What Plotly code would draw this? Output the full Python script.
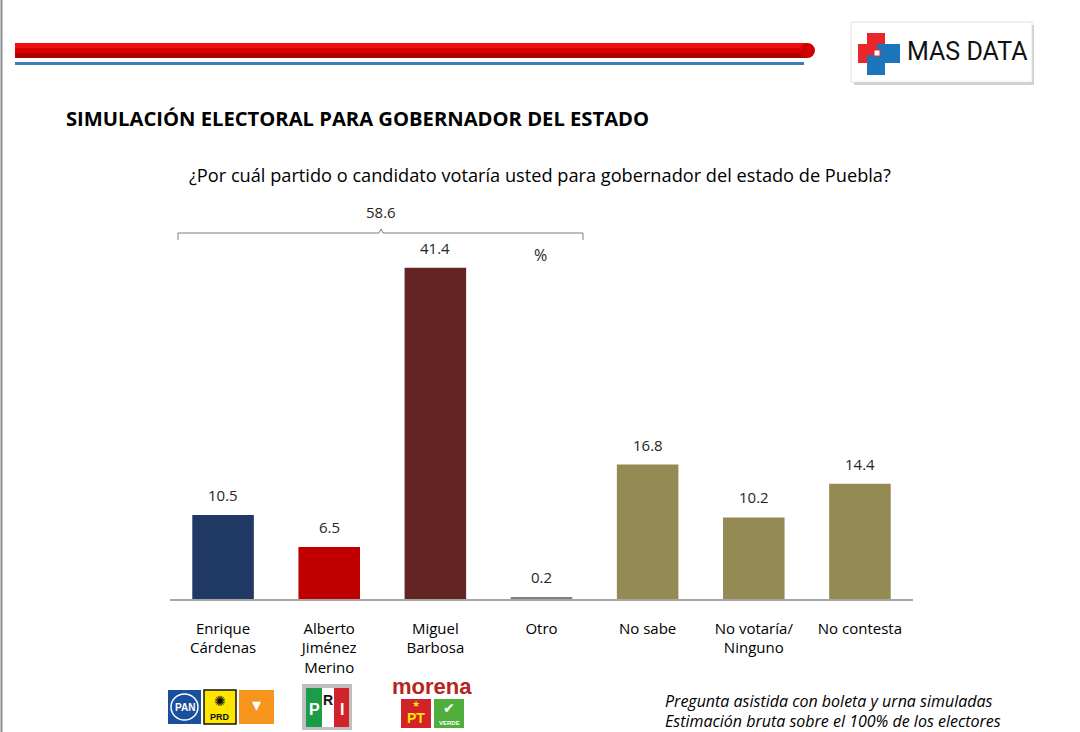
import plotly.graph_objects as go

categories = ["Enrique Cárdenas", "Alberto Jiménez Merino", "Miguel Barbosa", "Otro",
              "No sabe", "No votaría/ Ninguno", "No contesta"]
tick_labels = ["Enrique<br>Cárdenas", "Alberto<br>Jiménez<br>Merino", "Miguel<br>Barbosa", "Otro",
               "No sabe", "No votaría/<br>Ninguno", "No contesta"]
values = [10.5, 6.5, 41.4, 0.2, 16.8, 10.2, 14.4]
bar_colors = ["#1f3864", "#c00000", "#632523", "#7f7f7f", "#948a54", "#948a54", "#948a54"]
bracket_total = round(sum(values[:4]), 1)

W, H = 1080, 732
def px(x):
    return x / W
def py(y):
    return 1 - y / H

FONT = "Open Sans"

fig = go.Figure()
fig.add_trace(go.Bar(
    x=categories, y=values,
    marker=dict(color=bar_colors, line=dict(width=0)),
    hoverinfo="skip",
))

shapes = []
# left border line
shapes.append(dict(type="line", xref="paper", yref="paper", x0=px(1.5), x1=px(1.5), y0=0, y1=1,
                   line=dict(color="#8c8c8c", width=2)))
# red header bar (gradient approximation)
strips = [("#f01010", 43, 48), ("#d80000", 48, 53), ("#b00000", 53, 58)]
for c, y0, y1 in strips:
    shapes.append(dict(type="rect", xref="paper", yref="paper", x0=px(15), x1=px(808),
                       y0=py(y1), y1=py(y0), fillcolor=c, line=dict(width=0), layer="below"))
shapes.append(dict(type="circle", xref="paper", yref="paper", x0=px(800), x1=px(815),
                   y0=py(58), y1=py(43), fillcolor="#d00000", line=dict(width=0), layer="below"))
# blue line
shapes.append(dict(type="rect", xref="paper", yref="paper", x0=px(15), x1=px(804),
                   y0=py(65), y1=py(62), fillcolor="#3a7fb8", line=dict(width=0)))
# logo box shadow and box
shapes.append(dict(type="rect", xref="paper", yref="paper", x0=px(854), x1=px(1034),
                   y0=py(85), y1=py(25), fillcolor="#d0d0d0", line=dict(width=0)))
shapes.append(dict(type="rect", xref="paper", yref="paper", x0=px(851), x1=px(1032),
                   y0=py(82), y1=py(22), fillcolor="white", line=dict(color="#e0e0e0", width=1)))
# cross logo
shapes.append(dict(type="rect", xref="paper", yref="paper", x0=px(858), x1=px(880),
                   y0=py(63), y1=py(44), fillcolor="#e8262b", line=dict(width=0)))
shapes.append(dict(type="rect", xref="paper", yref="paper", x0=px(867), x1=px(885),
                   y0=py(53), y1=py(33), fillcolor="#e8262b", line=dict(width=0)))
shapes.append(dict(type="rect", xref="paper", yref="paper", x0=px(877), x1=px(900),
                   y0=py(63), y1=py(44), fillcolor="#1b75bb", line=dict(width=0)))
shapes.append(dict(type="rect", xref="paper", yref="paper", x0=px(867), x1=px(885),
                   y0=py(75), y1=py(55), fillcolor="#1b75bb", line=dict(width=0)))
shapes.append(dict(type="rect", xref="paper", yref="paper", x0=px(874), x1=px(880),
                   y0=py(56), y1=py(50), fillcolor="white", line=dict(color="#e8262b", width=1)))
# bracket
shapes.append(dict(type="path", xref="paper", yref="paper",
                   path=f"M {px(178)} {py(240)} L {px(178)} {py(233)} L {px(379)} {py(233)} "
                        f"L {px(381)} {py(229)} L {px(383)} {py(233)} L {px(583)} {py(233)} L {px(583)} {py(240)}",
                   line=dict(color="#7f7f7f", width=1)))
# party logos
def box(x0, y0, x1, y1, fill, line="rgba(0,0,0,0)", lw=0):
    shapes.append(dict(type="rect", xref="paper", yref="paper", x0=px(x0), x1=px(x1),
                       y0=py(y1), y1=py(y0), fillcolor=fill, line=dict(color=line, width=lw)))
box(168, 690, 201, 724, "#1b4f9c")
shapes.append(dict(type="circle", xref="paper", yref="paper", x0=px(171), x1=px(198),
                   y0=py(720), y1=py(694), fillcolor="#1b4f9c", line=dict(color="white", width=1.5)))
box(204, 690, 236, 724, "#ffe600", "#111111", 1.5)
box(239, 690, 274, 724, "#f7941d")
box(302, 684, 352, 730, "#bfbfbf")
box(306, 688, 322, 727, "#1a9c48")
box(322, 688, 334, 727, "#ffffff")
box(334, 688, 349, 727, "#d2232a")
box(401, 699, 431, 728, "#d2232a")
box(434, 699, 464, 728, "#4fae3c")

fig.update_layout(shapes=shapes)

ann = []
# value labels above bars (data coordinates)
for c, v in zip(categories, values):
    ann.append(dict(x=c, y=v, xref="x", yref="y", text=f"{v:.1f}", showarrow=False,
                    xanchor="center", yanchor="bottom", yshift=8,
                    font=dict(family=FONT, size=15, color="#262626")))

def text(x, y, s, size, color="#000000", bold=False, italic=False, xanchor="left", family=FONT):
    st = s
    if bold:
        st = f"<b>{st}</b>"
    if italic:
        st = f"<i>{st}</i>"
    ann.append(dict(x=px(x), y=py(y), xref="paper", yref="paper", text=st, showarrow=False,
                    xanchor=xanchor, yanchor="middle", font=dict(size=size, color=color, family=family)))

text(905, 52, "MAS DATA", 25, "#111111", family="Roboto")
text(64, 118, "SIMULACIÓN ELECTORAL PARA GOBERNADOR DEL ESTADO", 20.2, "#000000", bold=True)
text(540, 175, "¿Por cuál partido o candidato votaría usted para gobernador del estado de Puebla?", 18.2,
     "#000000", xanchor="center")
text(381, 212, f"{bracket_total:.1f}", 15, "#262626", xanchor="center")
text(540, 255, "%", 16, "#262626", xanchor="center")
text(663, 701, "Pregunta asistida con boleta y urna simuladas", 16, "#000000", italic=True)
text(663, 721, "Estimación bruta sobre el 100% de los electores", 16, "#000000", italic=True)
# logo texts
text(184.5, 707, "PAN", 10, "white", bold=True, xanchor="center", family="Liberation Sans")
text(220, 717, "PRD", 9, "#111111", bold=True, xanchor="center", family="Liberation Sans")
text(220, 701, "✺", 14, "#111111", xanchor="center", family="DejaVu Sans")
text(256.5, 704, "▾", 18, "white", xanchor="center", family="DejaVu Sans")
text(314, 709, "P", 16, "white", bold=True, xanchor="center", family="Liberation Sans")
text(328, 700, "R", 14, "#111111", bold=True, xanchor="center", family="Liberation Sans")
text(341.5, 709, "I", 16, "white", bold=True, xanchor="center", family="Liberation Sans")
text(432, 686, "morena", 22, "#b5261e", bold=True, xanchor="center", family="Liberation Sans")
text(416, 718, "PT", 14, "#ffe600", bold=True, xanchor="center", family="Liberation Sans")
text(416, 704, "★", 9, "#ffe600", xanchor="center", family="DejaVu Sans")
text(449, 708, "✔", 14, "white", xanchor="center", family="DejaVu Sans")
text(449, 723, "VERDE", 6, "white", bold=True, xanchor="center", family="Liberation Sans")

fig.update_layout(
    annotations=ann,
    width=W, height=H, autosize=False,
    margin=dict(l=0, r=0, t=0, b=0),
    paper_bgcolor="white", plot_bgcolor="white",
    showlegend=False,
    bargap=0.42,
    xaxis=dict(domain=[px(170), px(913)], type="category",
               tickmode="array", tickvals=categories, ticktext=tick_labels,
               tickfont=dict(family=FONT, size=15, color="#000000"),
               showline=True, linecolor="#a6a6a6", linewidth=1.5,
               ticks="", showgrid=False, zeroline=False, ticklabelstandoff=15,
               fixedrange=True),
    yaxis=dict(domain=[1 - 599 / H, 1 - 239 / H], range=[0, 45], visible=False,
               showgrid=False, zeroline=False, fixedrange=True),
)

fig.write_html("out.html")
